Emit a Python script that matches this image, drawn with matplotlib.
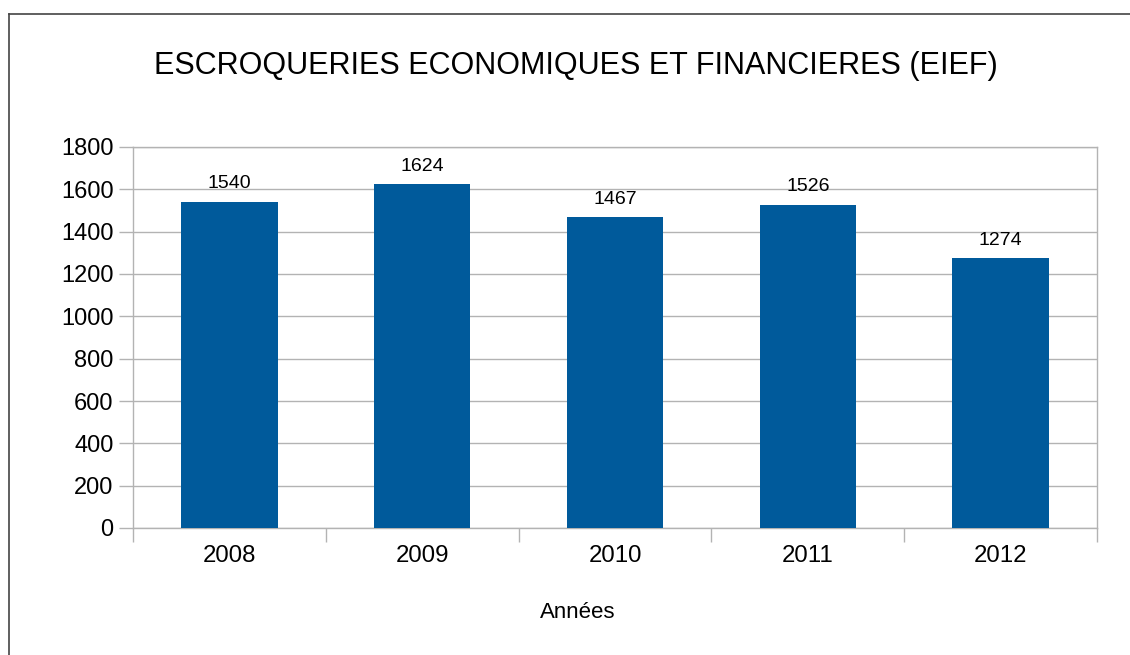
import matplotlib
matplotlib.use("Agg")
import matplotlib.pyplot as plt
from matplotlib.lines import Line2D
import numpy as np

years = ["2008", "2009", "2010", "2011", "2012"]
values = [1540, 1624, 1467, 1526, 1274]
yticks = [0, 200, 400, 600, 800, 1000, 1200, 1400, 1600, 1800]

plt.rcParams['font.family'] = ['Liberation Sans', 'DejaVu Sans']

W, H = 1130, 655
fig = plt.figure(figsize=(W/100, H/100), dpi=100)
ax = fig.add_axes([133/W, 1-528/H, (1097-133)/W, (528-147)/H])

x = np.arange(len(years))
bar_color = "#005a9b"
ax.bar(x, values, width=0.5, color=bar_color, zorder=3)
for xi, v in zip(x, values):
    ax.annotate(str(v), (xi, v), xytext=(0, 7), textcoords="offset points",
                ha="center", va="bottom", fontsize=14, color="black")

ax.set_xlim(-0.5, len(years)-0.5)
ax.set_ylim(0, 1800)
ax.set_yticks(yticks)
ax.set_yticklabels([str(t) for t in yticks], fontsize=17)
ax.set_xticks(x)
ax.set_xticklabels(years, fontsize=17.3)
ax.tick_params(axis='x', which='major', length=0, pad=12)
ax.set_xticks(np.arange(-0.5, len(years), 1.0), minor=True)
ax.tick_params(axis='x', which='minor', length=10, color="#b3b3b3", width=1)
ax.tick_params(axis='y', length=10, color="#b3b3b3", width=1, pad=4)
ax.yaxis.grid(True, color="#b3b3b3", linewidth=1, zorder=0)
for s in ax.spines.values():
    s.set_color("#b3b3b3")
    s.set_linewidth(1)

fig.text(578/W, 1-612/H, "Années", ha="center", va="center", fontsize=16)
fig.text(576/W, 1-66/H, "ESCROQUERIES ECONOMIQUES ET FINANCIERES (EIEF)",
         ha="center", va="center", fontsize=22)

# figure border (top & left visible)
fig.add_artist(Line2D([9/W, 9/W], [0, 1-14/H], transform=fig.transFigure, color="#444444", lw=1.2))
fig.add_artist(Line2D([9/W, 1], [1-14/H, 1-14/H], transform=fig.transFigure, color="#444444", lw=1.2))

fig.savefig("out.png", dpi=100)
